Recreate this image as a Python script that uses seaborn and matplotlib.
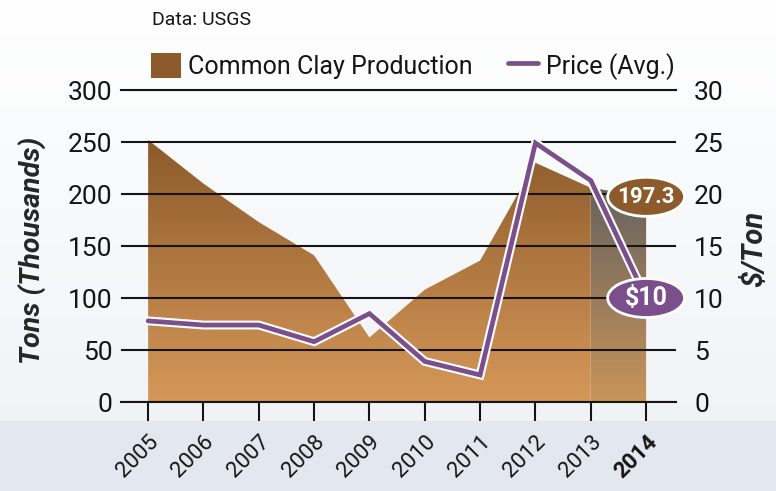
import numpy as np
import pandas as pd
import matplotlib
matplotlib.use("Agg")
import matplotlib.pyplot as plt
import matplotlib.patheffects as pe
import seaborn as sns
from matplotlib.colors import LinearSegmentedColormap
from matplotlib.patches import Ellipse, Patch, PathPatch, Rectangle
from matplotlib.lines import Line2D

# Common clay production (thousand tons) and average price ($/ton)
years = [2005, 2006, 2007, 2008, 2009, 2010, 2011, 2012, 2013, 2014]
clay_production = [252, 210, 173, 141, 62, 108, 136, 230, 206, 197.3]
avg_price = [7.8, 7.4, 7.4, 5.8, 8.5, 3.9, 2.6, 24.9, 21.3, 10.0]
left_ticks = [0, 50, 100, 150, 200, 250, 300]
right_ticks = [0, 5, 10, 15, 20, 25, 30]
year_labels = [str(y) for y in years]
clay_label = "197.3"
price_label = "$10"

BROWN_DARK = "#8c5a2b"
BROWN_LIGHT = "#d69859"
GREY_TOP = "#66625e"
GREY_BOTTOM = "#c99459"
PURPLE = "#7b4f8c"
INK = "#151515"

sns.set_theme(style="white")
plt.rcParams["font.family"] = ["Roboto", "DejaVu Sans"]
plt.rcParams["text.color"] = INK
plt.rcParams["xtick.color"] = INK
plt.rcParams["ytick.color"] = INK

df = pd.DataFrame({"year": years, "clay": clay_production, "price": avg_price})

fig = plt.figure(figsize=(7.76, 4.91), dpi=100)

# soft page background with a tinted band under the axis
bg = fig.add_axes([0, 0, 1, 1], zorder=-10)
ramp = np.linspace(0, 1, 256).reshape(-1, 1)
bg.imshow(ramp, aspect="auto", origin="upper", extent=[0, 1, 0, 1],
          cmap=LinearSegmentedColormap.from_list("page", ["#ffffff", "#eef1f5"]))
bg.add_patch(Rectangle((0, 0), 1, 70 / 491, color="#e3e8f0", lw=0))
bg.set_xlim(0, 1)
bg.set_ylim(0, 1)
bg.axis("off")

ax = fig.add_axes([121 / 776, 1 - 402 / 491, 555 / 776, 312 / 491])
ax.patch.set_alpha(0)


def gradient_area(frame, top_color, bottom_color):
    poly = ax.fill_between(frame["year"], 0, frame["clay"],
                           facecolor="none", edgecolor="none")
    clip = PathPatch(poly.get_paths()[0], transform=ax.transData,
                     facecolor="none", edgecolor="none")
    ax.add_patch(clip)
    cmap = LinearSegmentedColormap.from_list("fill", [top_color, bottom_color])
    im = ax.imshow(ramp, aspect="auto", origin="upper", cmap=cmap, zorder=1,
                   extent=[frame["year"].min(), frame["year"].max(),
                           0, frame["clay"].max()])
    im.set_clip_path(clip)


gradient_area(df.iloc[:-1], BROWN_DARK, BROWN_LIGHT)
gradient_area(df.iloc[-2:], GREY_TOP, GREY_BOTTOM)

ax.set_xlim(2004.51, 2014.54)
ax.set_ylim(0, 300)
ax.set_yticks(left_ticks)
ax.set_xticks(years)
ax.set_xticklabels(year_labels)
ax.set_axisbelow(False)
ax.yaxis.grid(True, color=INK, lw=1.5)
ax.xaxis.grid(False)
for side in ("left", "right"):
    ax.spines[side].set_visible(False)
for side in ("top", "bottom"):
    ax.spines[side].set_color(INK)
    ax.spines[side].set_linewidth(1.5)
ax.tick_params(axis="y", length=0, pad=6, labelsize=19)
ax.tick_params(axis="x", bottom=True, length=14, width=1.5, color=INK,
               direction="out", pad=7, labelsize=16)
for lab in ax.get_xticklabels():
    lab.set_rotation(45)
    lab.set_ha("right")
    lab.set_va("top")
    lab.set_rotation_mode("anchor")
ax.get_xticklabels()[-1].set_fontweight("bold")
ax.set_ylabel("Tons (Thousands)", fontsize=20.5, fontweight="bold", fontstyle="italic")
ax.yaxis.set_label_coords(-0.133, 0.487)

# price on the secondary axis
ax2 = ax.twinx()
sns.lineplot(data=df, x="year", y="price", ax=ax2, color=PURPLE, lw=3.4,
             solid_joinstyle="miter", legend=False, zorder=3,
             path_effects=[pe.Stroke(linewidth=6.4, foreground="white"), pe.Normal()])
ax2.set_xlabel("")

# value callouts for the latest year
last_year = years[-1]
ax2.add_patch(Ellipse((last_year, clay_production[-1]), 1.39, 37.5,
                      transform=ax.transData, facecolor=BROWN_DARK,
                      edgecolor="white", lw=2, clip_on=False, zorder=5))
ax2.text(last_year, clay_production[-1], clay_label, transform=ax.transData,
         ha="center", va="center", color="white", fontsize=16,
         fontweight="bold", zorder=6, clip_on=False)
ax2.add_patch(Ellipse((last_year, avg_price[-1]), 1.39, 3.75,
                      facecolor=PURPLE, edgecolor="white", lw=2,
                      clip_on=False, zorder=5))
ax2.text(last_year, avg_price[-1], price_label, ha="center", va="center",
         color="white", fontsize=18, fontweight="bold", zorder=6, clip_on=False)

ax2.set_xlim(2004.51, 2014.54)
ax2.set_ylim(0, 30)
ax2.set_yticks(right_ticks)
ax2.tick_params(axis="y", length=0, pad=13, labelsize=19)
for side in ax2.spines:
    ax2.spines[side].set_visible(False)
ax2.set_ylabel("$/Ton", fontsize=21, fontweight="bold", fontstyle="italic",
               rotation=90)
ax2.yaxis.set_label_coords(1.116, 0.49)

# header: source note and legend
fig.text(152 / 776, 1 - 25 / 491, "Data: USGS", fontsize=14, va="baseline")
handles = [Patch(facecolor=BROWN_DARK, edgecolor="none"),
           Line2D([], [], color=PURPLE, lw=3.4)]
fig.legend(handles, ["Common Clay Production", "Price (Avg.)"],
           loc="lower left", bbox_to_anchor=(151 / 776, 1 - 80 / 491),
           ncol=2, frameon=False, fontsize=18, handlelength=1.2,
           handleheight=1.2, handletextpad=0.3, columnspacing=1.4,
           borderpad=0, borderaxespad=0)

fig.savefig("out.png", dpi=100)
